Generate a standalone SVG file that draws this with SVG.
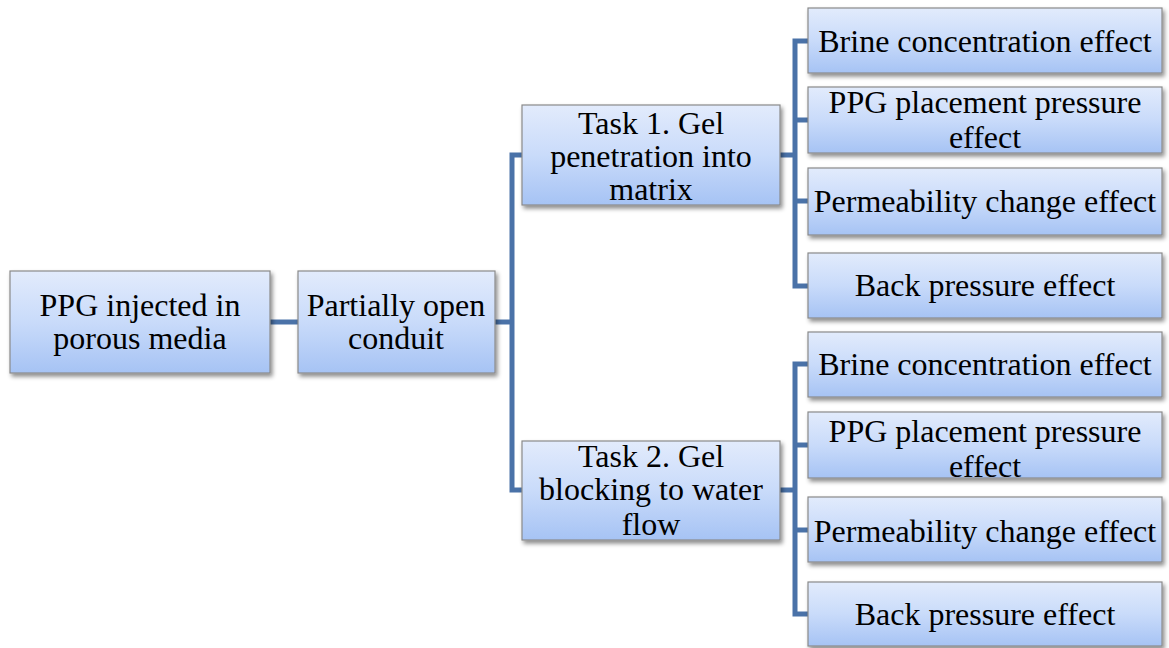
<svg xmlns="http://www.w3.org/2000/svg" width="1169" height="648" viewBox="0 0 1169 648">
  <defs>
    <linearGradient id="boxFill" x1="0" y1="0" x2="0" y2="1">
      <stop offset="0" stop-color="#e2ebfc"/>
      <stop offset="0.5" stop-color="#c9dbfa"/>
      <stop offset="1" stop-color="#a6c3f4"/>
    </linearGradient>
    <filter id="shadow" x="-10%" y="-10%" width="120%" height="130%">
      <feDropShadow dx="2" dy="3" stdDeviation="2" flood-color="#000" flood-opacity="0.45"/>
    </filter>
  </defs>
  <style>
    .box { fill: url(#boxFill); stroke: #8a8a8a; stroke-width: 1.2; filter: url(#shadow); }
    .lbl { font-family: "Liberation Serif", "Times New Roman", serif; font-size: 32px; fill: #000; text-anchor: middle; }
    .conn { fill: none; stroke: #4a72a8; stroke-width: 5; stroke-linejoin: miter; }
  </style>

  <rect width="1169" height="648" fill="#ffffff"/>

  <!-- connectors -->
  <g id="connectors">
    <path class="conn" d="M270 322 H298"/>
    <path class="conn" d="M495 322 H512"/>
    <path class="conn" d="M522 155 H512 V490 H522"/>
    <path class="conn" d="M780 155 H795"/>
    <path class="conn" d="M808 41 H795 V286 H808"/>
    <path class="conn" d="M795 120 H808"/>
    <path class="conn" d="M795 201 H808"/>
    <path class="conn" d="M780 490 H795"/>
    <path class="conn" d="M808 364 H795 V614 H808"/>
    <path class="conn" d="M795 445 H808"/>
    <path class="conn" d="M795 530 H808"/>
  </g>

  <!-- root -->
  <g id="node-root">
    <rect class="box" x="10" y="271" width="260" height="102"/>
    <text class="lbl" x="140" y="316">PPG injected in</text>
    <text class="lbl" x="140" y="349">porous media</text>
  </g>

  <g id="node-conduit">
    <rect class="box" x="298" y="271" width="197" height="102"/>
    <text class="lbl" x="396" y="316">Partially open</text>
    <text class="lbl" x="396" y="349">conduit</text>
  </g>

  <g id="node-task1">
    <rect class="box" x="522" y="105" width="258" height="100"/>
    <text class="lbl" x="651" y="134">Task 1. Gel</text>
    <text class="lbl" x="651" y="167">penetration into</text>
    <text class="lbl" x="651" y="200">matrix</text>
  </g>

  <g id="node-task2">
    <rect class="box" x="522" y="441" width="258" height="99"/>
    <text class="lbl" x="651" y="467">Task 2. Gel</text>
    <text class="lbl" x="651" y="500">blocking to water</text>
    <text class="lbl" x="651" y="535">flow</text>
  </g>

  <!-- task 1 effects -->
  <g id="node-t1-brine">
    <rect class="box" x="808" y="8" width="354" height="65"/>
    <text class="lbl" x="985" y="52">Brine concentration effect</text>
  </g>
  <g id="node-t1-placement">
    <rect class="box" x="808" y="87" width="354" height="66"/>
    <text class="lbl" x="985" y="113">PPG placement pressure</text>
    <text class="lbl" x="985" y="148">effect</text>
  </g>
  <g id="node-t1-perm">
    <rect class="box" x="808" y="168" width="354" height="67"/>
    <text class="lbl" x="985" y="212">Permeability change effect</text>
  </g>
  <g id="node-t1-back">
    <rect class="box" x="808" y="253" width="354" height="65"/>
    <text class="lbl" x="985" y="296">Back pressure effect</text>
  </g>

  <!-- task 2 effects -->
  <g id="node-t2-brine">
    <rect class="box" x="808" y="332" width="354" height="65"/>
    <text class="lbl" x="985" y="375">Brine concentration effect</text>
  </g>
  <g id="node-t2-placement">
    <rect class="box" x="808" y="412" width="354" height="66"/>
    <text class="lbl" x="985" y="442">PPG placement pressure</text>
    <text class="lbl" x="985" y="477">effect</text>
  </g>
  <g id="node-t2-perm">
    <rect class="box" x="808" y="497" width="354" height="65"/>
    <text class="lbl" x="985" y="542">Permeability change effect</text>
  </g>
  <g id="node-t2-back">
    <rect class="box" x="808" y="582" width="354" height="64"/>
    <text class="lbl" x="985" y="625">Back pressure effect</text>
  </g>
</svg>
